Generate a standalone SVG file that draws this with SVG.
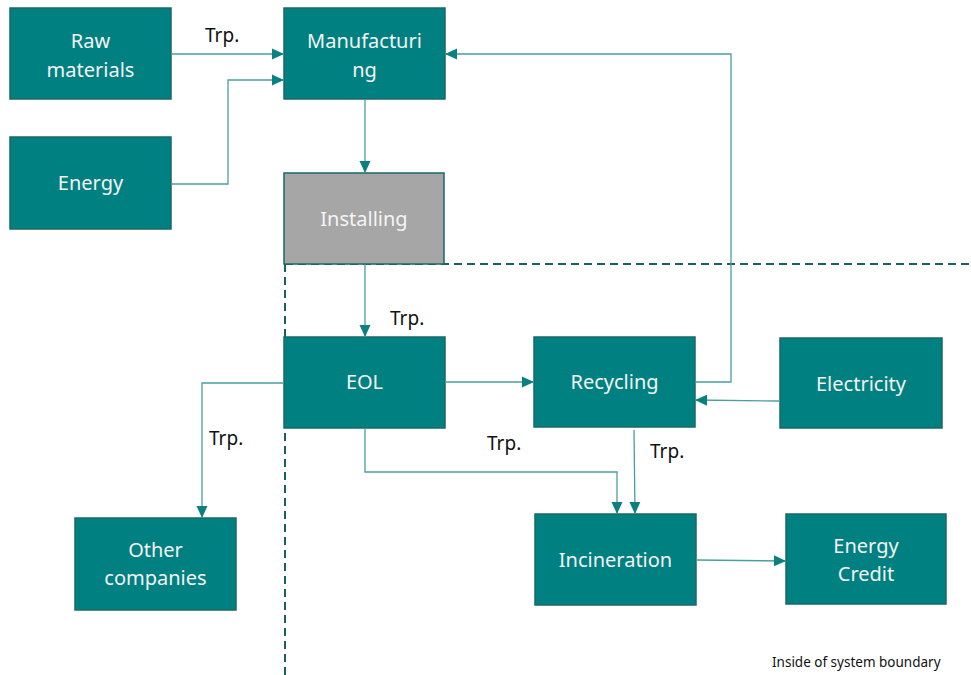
<svg xmlns="http://www.w3.org/2000/svg" width="971" height="675" viewBox="0 0 971 675">
<defs>
<marker id="ah" markerUnits="userSpaceOnUse" markerWidth="12" markerHeight="12" viewBox="0 0 12 12" refX="12" refY="6" orient="auto">
<path d="M0,0.5 L12,6 L0,11.5 Z" fill="#0a8080"/>
</marker>
<style>
.box{fill:#008080;stroke:#1a6868;stroke-width:1.5}
.gray{fill:#a6a6a6;stroke:#1a6868;stroke-width:1.5}
.lbl{font-family:"Noto Sans","Open Sans",sans-serif;font-size:20px;fill:#f4f4f4;text-anchor:middle}
.trp{font-family:"Noto Sans","Open Sans",sans-serif;font-size:19px;fill:#111}
.c{fill:none;stroke:#4a9e9e;stroke-width:1.3;marker-end:url(#ah)}
.bd{fill:none;stroke:#1a6060;stroke-width:2;stroke-dasharray:8 5}
</style>
</defs>
<rect width="971" height="675" fill="#fff"/>
<g id="boundary">
<path class="bd" d="M285,264 H971"/>
<path class="bd" d="M285,264 V675"/>
</g>
<g id="raw"><rect class="box" x="10" y="8" width="161" height="91"/><text class="lbl" x="90.5" y="48">Raw</text><text class="lbl" x="90.5" y="77">materials</text></g>
<g id="manufacturing"><rect class="box" x="284" y="8" width="161" height="91"/><text class="lbl" x="364.5" y="48">Manufacturi</text><text class="lbl" x="364.5" y="77">ng</text></g>
<g id="energy"><rect class="box" x="10" y="137" width="161" height="92"/><text class="lbl" x="90.5" y="190">Energy</text></g>
<g id="installing"><rect class="gray" x="284" y="173" width="160" height="91"/><text class="lbl" x="364" y="226">Installing</text></g>
<g id="eol"><rect class="box" x="284" y="337" width="161" height="91"/><text class="lbl" x="364.5" y="389">EOL</text></g>
<g id="recycling"><rect class="box" x="534" y="337" width="161" height="90"/><text class="lbl" x="614.5" y="389">Recycling</text></g>
<g id="electricity"><rect class="box" x="780" y="338" width="162" height="90"/><text class="lbl" x="861" y="391">Electricity</text></g>
<g id="incineration"><rect class="box" x="535" y="514" width="161" height="91"/><text class="lbl" x="615.5" y="567">Incineration</text></g>
<g id="energycredit"><rect class="box" x="786" y="514" width="160" height="90"/><text class="lbl" x="866" y="553">Energy</text><text class="lbl" x="866" y="581">Credit</text></g>
<g id="other"><rect class="box" x="75" y="518" width="161" height="92"/><text class="lbl" x="155.5" y="557">Other</text><text class="lbl" x="155.5" y="585">companies</text></g>
<g id="connectors">
<path class="c" d="M171,54 H284"/>
<path class="c" d="M171,184 H228 V80 H284"/>
<path class="c" d="M365,99 V173"/>
<path class="c" d="M365,264 V337"/>
<path class="c" d="M445,382 H534"/>
<path class="c" d="M695,382 H731 V54 H445"/>
<path class="c" d="M780,401 L695,400"/>
<path class="c" d="M365,428 V472 H617 V514"/>
<path class="c" d="M634,430 L635,514"/>
<path class="c" d="M696,560 L786,561"/>
<path class="c" d="M284,383 H202 V518"/>
</g>
<g id="labels">
<text class="trp" x="205" y="42">Trp.</text>
<text class="trp" x="390" y="325">Trp.</text>
<text class="trp" x="487" y="450">Trp.</text>
<text class="trp" x="650" y="458">Trp.</text>
<text class="trp" x="209" y="445">Trp.</text>
<text x="772" y="667" font-family="Noto Sans, Open Sans, sans-serif" font-size="13.5" fill="#111">Inside of system boundary</text>
</g>
</svg>
